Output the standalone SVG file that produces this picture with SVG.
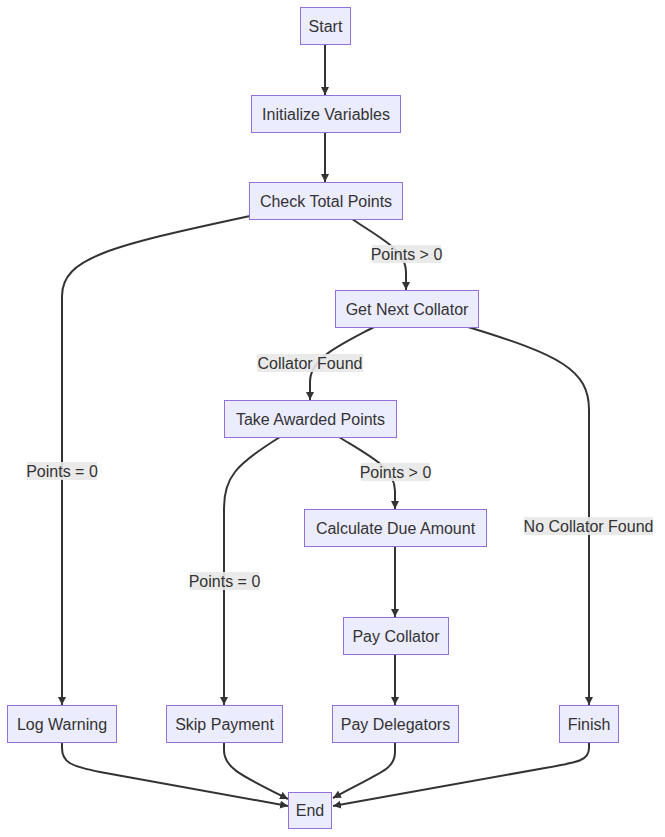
<svg xmlns="http://www.w3.org/2000/svg" width="665" height="837" viewBox="0 0 665 837">
<style>
.node rect{fill:#ECECFF;stroke:#9370DB;stroke-width:1}
text{font-family:"Liberation Sans",Arial,sans-serif;font-size:16px;fill:#333333;text-anchor:middle}
.edge{fill:none;stroke:#333333;stroke-width:2;marker-end:url(#arrow)}
.lbl rect{fill:#e8e8e8;opacity:0.9}
</style>
<defs>
<marker id="arrow" viewBox="0 0 10 10" refX="10" refY="5" markerUnits="userSpaceOnUse" markerWidth="8" markerHeight="8" orient="auto">
<path d="M0,0 L10,5 L0,10 z" fill="#333333"/>
</marker>
</defs>
<rect width="665" height="837" fill="#ffffff"/>
<g id="connectors">
<path class="edge" d="M325,45 L325,95"/>
<path class="edge" d="M325,132 L325,182"/>
<path class="edge" d="M352,219 C380,238 406,250 406,272 L406,290"/>
<path class="edge" d="M250,216 C110,246 62,258 62,296 L62,705"/>
<path class="edge" d="M374,327 C340,345 310,358 310,382 L310,400"/>
<path class="edge" d="M468,327 C560,355 589,370 589,410 L589,705"/>
<path class="edge" d="M280,437 C235,465 224,478 224,508 L224,705"/>
<path class="edge" d="M339,437 C370,456 395,468 395,491 L395,509"/>
<path class="edge" d="M395,546 L395,617"/>
<path class="edge" d="M395,654 L395,705"/>
<path class="edge" d="M62,742 L62,748 C62,762 70,766 100,772 L288,806"/>
<path class="edge" d="M224,742 L224,750 C224,768 240,775 288,799"/>
<path class="edge" d="M395,742 L395,752 C395,770 380,772 333,798"/>
<path class="edge" d="M589,742 L589,748 C589,760 580,762 545,768 L333,806"/>
<g class="lbl">
<rect x="372" y="245" width="69" height="18"/><text x="406.5" y="259.5">Points &gt; 0</text>
<rect x="257" y="354" width="106" height="18"/><text x="310" y="368.5">Collator Found</text>
<rect x="27" y="462" width="70" height="18"/><text x="62" y="476.5">Points = 0</text>
<rect x="524" y="517" width="129" height="18"/><text x="588.5" y="531.5">No Collator Found</text>
<rect x="190" y="572" width="69" height="18"/><text x="224.5" y="586.5">Points = 0</text>
<rect x="361" y="463" width="69" height="18"/><text x="395.5" y="477.5">Points &gt; 0</text>
</g>
</g>
<g id="start" class="node"><rect x="300.5" y="7.5" width="50" height="37"/><text x="325.5" y="31.5">Start</text></g>
<g id="init" class="node"><rect x="251.5" y="95.5" width="149" height="37"/><text x="326" y="119.5">Initialize Variables</text></g>
<g id="check" class="node"><rect x="249.5" y="182.5" width="153" height="37"/><text x="326" y="206.5">Check Total Points</text></g>
<g id="getnext" class="node"><rect x="335.5" y="290.5" width="143" height="37"/><text x="407" y="314.5">Get Next Collator</text></g>
<g id="take" class="node"><rect x="224.5" y="400.5" width="172" height="37"/><text x="310.5" y="424.5">Take Awarded Points</text></g>
<g id="calc" class="node"><rect x="304.5" y="509.5" width="182" height="37"/><text x="395.5" y="533.5">Calculate Due Amount</text></g>
<g id="paycollator" class="node"><rect x="343.5" y="617.5" width="105" height="37"/><text x="396" y="641.5">Pay Collator</text></g>
<g id="logwarning" class="node"><rect x="7.5" y="705.5" width="109" height="37"/><text x="62" y="729.5">Log Warning</text></g>
<g id="skip" class="node"><rect x="166.5" y="705.5" width="116" height="37"/><text x="224.5" y="729.5">Skip Payment</text></g>
<g id="paydelegators" class="node"><rect x="332.5" y="705.5" width="126" height="37"/><text x="395.5" y="729.5">Pay Delegators</text></g>
<g id="finish" class="node"><rect x="559.5" y="705.5" width="59" height="37"/><text x="589" y="729.5">Finish</text></g>
<g id="end" class="node"><rect x="288.5" y="792.5" width="43" height="36"/><text x="310" y="816">End</text></g>
</svg>
